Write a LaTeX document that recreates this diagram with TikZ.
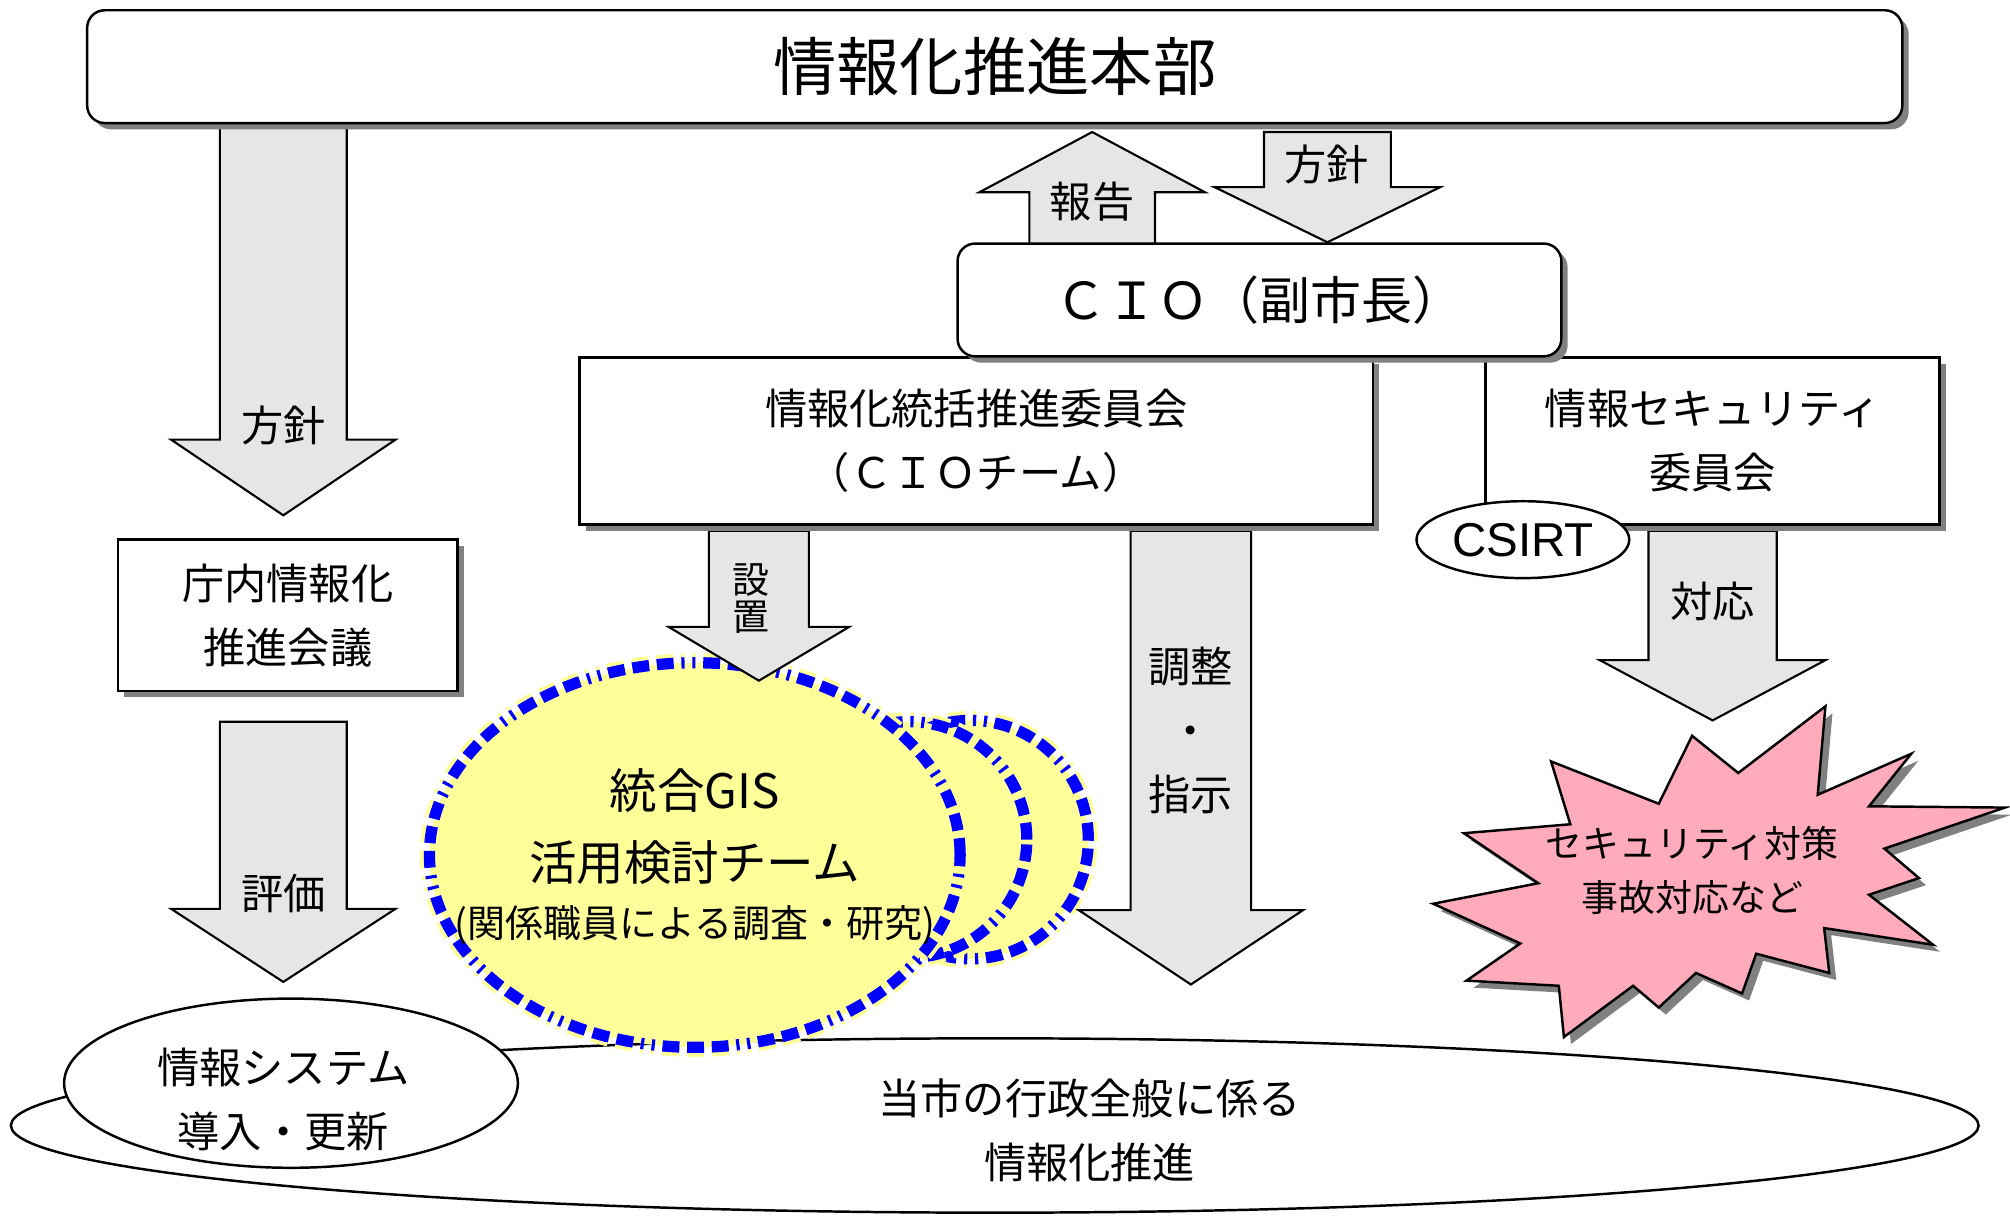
\documentclass[tikz,border=0pt]{standalone}
\usepackage{fontspec}
\setmainfont{Noto Sans CJK JP}
\newfontfamily\csirtfont{Liberation Sans}
\usepackage{tikz}
\usetikzlibrary{shapes.geometric,shadows}

\definecolor{arrowgray}{HTML}{E6E6E6}
\definecolor{gisyellow}{HTML}{FFFF99}
\definecolor{gisblue}{HTML}{0000FF}
\definecolor{burstpink}{HTML}{FFABBB}
\definecolor{shadowgray}{HTML}{808080}

\newlength\px
\setlength\px{0.0128cm}

% block arrow: x, start y, neck y, tip y, half shaft, half head
\newcommand{\blkarrow}[6]{%
  \filldraw[blkarrow] (#1-#5,#2) -- (#1-#5,#3) -- (#1-#6,#3) -- (#1,#4)
    -- (#1+#6,#3) -- (#1+#5,#3) -- (#1+#5,#2) -- cycle;}

\tikzset{
  boxshadow/.style={drop shadow={shadow xshift=1.8pt, shadow yshift=-1.8pt,
      fill=shadowgray, opacity=1}},
  txt/.style={font=\fontsize{12}{18.2}\selectfont, align=center, inner sep=0pt},
  orgbox/.style={draw, line width=0.7pt, fill=white, outer sep=0pt,
      inner sep=0pt, align=center, boxshadow, txt},
  roundbox/.style={orgbox, rounded corners=5pt},
  oval/.style={draw, ellipse, fill=white, line width=0.7pt, inner sep=0pt},
  gisring/.style={ellipse, inner sep=0pt, fill=gisyellow,
      preaction={draw=gisyellow, line width=5.4pt},
      draw=gisblue, line width=3.2pt,
      dash pattern=on 4.8pt off 2.2pt on 4.8pt off 2.2pt on 4.8pt off 2.2pt
        on 0.9pt off 2.2pt on 0.9pt off 2.2pt},
  blkarrow/.style={draw, fill=arrowgray, line width=0.6pt, line join=miter},
  burst/.style={draw, fill=burstpink, line width=0.7pt, line join=miter,
      drop shadow={shadow xshift=2pt, shadow yshift=-2pt, fill=shadowgray, opacity=1}},
}

\begin{document}
\begin{tikzpicture}[x=0.0128cm, y=-0.0128cm]
\useasboundingbox (0,0) rectangle (1568,948);

% ovals at the bottom
\node[oval, minimum width=1535\px, minimum height=136\px] (town) at (776,878) {};
\node[txt] (towntext) at (850,882) {当市の行政全般に係る\\情報化推進};
\node[oval, minimum width=354\px, minimum height=132\px] (system) at (227,845) {};
\node[txt] (systemtext) at (221,858) {情報システム\\導入・更新};

% GIS team
\node[gisring, minimum width=184\px, minimum height=186\px] (gisback) at (757,655) {};
\node[gisring, minimum width=184\px, minimum height=184\px] (gismid) at (709,655) {};
\node[gisring, minimum width=414\px, minimum height=300\px] (gis) at (542,667) {};
\node[font=\fontsize{13.5}{20.4}\selectfont, align=center, inner sep=0pt] (gistext) at (542,645) {統合GIS\\活用検討チーム};
\node[font=\fontsize{10.8}{12}\selectfont, inner sep=0pt] (gisnote) at (542,722) {(関係職員による調査・研究)};

% block arrows
\blkarrow{221}{98}{343}{402}{49.5}{87.5}
\blkarrow{221}{563}{709}{766}{49.5}{87.5}
\blkarrow{852}{192}{150}{103}{49}{88}
\blkarrow{1035.5}{103}{146}{189}{49.5}{88}
\blkarrow{592}{414}{489}{531}{39}{70.5}
\blkarrow{929}{414}{710}{768}{47}{87.5}
\blkarrow{1336}{414}{515}{562}{50}{88}

\node[txt] (policyleft) at (221,332) {方針};
\node[txt] (evaluate) at (221,697) {評価};
\node[txt] (report) at (852,157) {報告};
\node[txt] (policytop) at (1035,128) {方針};
\node[font=\fontsize{10.5}{10.6}\selectfont, align=center, inner sep=0pt] (setup) at (586,467) {設\\置};
\node[txt] (adjust) at (929,570) {調整\\・\\指示};
\node[txt] (respond) at (1336,469) {対応};

% boxes
\node[orgbox, minimum width=265\px, minimum height=118\px] (kaigi) at (224.5,480) {庁内情報化\\推進会議};
\node[orgbox, minimum width=619\px, minimum height=130\px] (cioteam) at (761.5,344) {情報化統括推進委員会\\（ＣＩＯチーム）};
\node[orgbox, minimum width=354\px, minimum height=130\px] (secboard) at (1336,344) {情報セキュリティ\\委員会};
\node[roundbox, minimum width=471\px, minimum height=88\px, font=\fontsize{14.5}{16}\selectfont] (cio) at (982.5,234) {ＣＩＯ（副市長）};
\node[roundbox, minimum width=1416\px, minimum height=88\px, font=\fontsize{18}{20}\selectfont] (hq) at (776,52) {\raisebox{1pt}{情報化推進本部}};
\node[oval, minimum width=166\px, minimum height=60\px, font=\csirtfont\fontsize{13.5}{16}\selectfont] (csirt) at (1188,421) {CSIRT};

% starburst
\filldraw[burst] (1210,594) -- (1225,643) -- (1142,650) -- (1200,689) -- (1118,705)
  -- (1186,736) -- (1144,765) -- (1216,769) -- (1220,809) -- (1274,769)
  -- (1294,786) -- (1323,759) -- (1359,775) -- (1370,744) -- (1427,759)
  -- (1423,724) -- (1508,737) -- (1458,698) -- (1497,685) -- (1470,662)
  -- (1564,630) -- (1458,629) -- (1491,588) -- (1418,620) -- (1424,551)
  -- (1356,603) -- (1320,574) -- (1294,627) -- cycle;
\node[font=\fontsize{10.5}{15.3}\selectfont, align=center, inner sep=0pt] (bursttext) at (1320,679) {セキュリティ対策\\事故対応など};
\end{tikzpicture}
\end{document}
